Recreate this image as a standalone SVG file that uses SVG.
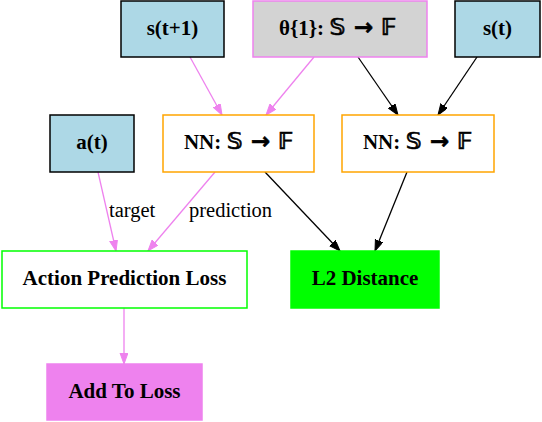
<svg xmlns="http://www.w3.org/2000/svg" width="542" height="422" viewBox="0 0 542 422">
<style>
.lbl{font-family:"Liberation Serif","Times New Roman",serif;font-weight:bold;font-size:21px;fill:#000;text-anchor:middle}
.el{font-family:"Liberation Serif","Times New Roman",serif;font-size:20.5px;fill:#000}
.math{font-family:"DejaVu Sans","DejaVu Serif",sans-serif;font-weight:bold;font-size:23px;stroke:#000;stroke-width:0.6}
.pk{stroke:#ee82ee;stroke-width:1.3;fill:none}
.bk{stroke:#000;stroke-width:1.3;fill:none}
</style>
<defs>
<marker id="ap" markerUnits="userSpaceOnUse" markerWidth="12" markerHeight="9" refX="11" refY="4" orient="auto"><path d="M0,0 L11,4 L0,8 z" fill="#ee82ee" stroke="#ee82ee"/></marker>
<marker id="ab" markerUnits="userSpaceOnUse" markerWidth="12" markerHeight="9" refX="11" refY="4" orient="auto"><path d="M0,0 L11,4 L0,8 z" fill="#000" stroke="#000"/></marker>
</defs>
<rect width="542" height="422" fill="#fff"/>
<g id="connectors">
<line class="pk" x1="190" y1="57" x2="222" y2="115" marker-end="url(#ap)"/>
<line class="pk" x1="314" y1="57" x2="266" y2="115" marker-end="url(#ap)"/>
<line class="bk" x1="358" y1="57" x2="398" y2="115" marker-end="url(#ab)"/>
<line class="bk" x1="477" y1="57" x2="438" y2="115" marker-end="url(#ab)"/>
<line class="pk" x1="98" y1="172" x2="116" y2="251" marker-end="url(#ap)"/>
<line class="pk" x1="215" y1="172" x2="148" y2="251" marker-end="url(#ap)"/>
<line class="bk" x1="265" y1="172" x2="340" y2="251" marker-end="url(#ab)"/>
<line class="bk" x1="407" y1="172" x2="375" y2="251" marker-end="url(#ab)"/>
<line class="pk" x1="124" y1="308" x2="124" y2="364" marker-end="url(#ap)"/>
<text class="el" x="109" y="217">target</text>
<text class="el" x="189" y="217">prediction</text>
</g>
<g id="s_t1">
<rect x="121" y="1" width="103" height="56" fill="#add8e6" stroke="#000" stroke-width="1.5"/>
<text class="lbl" x="172.5" y="35">s(t+1)</text>
</g>
<g id="theta">
<rect x="253" y="1" width="174" height="56" fill="#d3d3d3" stroke="#ee82ee" stroke-width="1.5"/>
<text class="lbl" x="338" y="35">θ{1}: <tspan class="math">𝕊 → 𝔽</tspan></text>
</g>
<g id="s_t">
<rect x="455" y="1" width="85" height="56" fill="#add8e6" stroke="#000" stroke-width="1.5"/>
<text class="lbl" x="497.5" y="35">s(t)</text>
</g>
<g id="a_t">
<rect x="50" y="115" width="84" height="57" fill="#add8e6" stroke="#000" stroke-width="1.5"/>
<text class="lbl" x="92" y="149">a(t)</text>
</g>
<g id="nn1">
<rect x="163" y="115" width="151" height="57" fill="#fff" stroke="#ffa500" stroke-width="1.5"/>
<text class="lbl" x="239" y="149">NN: <tspan class="math">𝕊 → 𝔽</tspan></text>
</g>
<g id="nn2">
<rect x="342" y="115" width="152" height="57" fill="#fff" stroke="#ffa500" stroke-width="1.5"/>
<text class="lbl" x="418" y="149">NN: <tspan class="math">𝕊 → 𝔽</tspan></text>
</g>
<g id="apl">
<rect x="2" y="251" width="245" height="57" fill="#fff" stroke="#00ff00" stroke-width="1.5"/>
<text class="lbl" x="124.5" y="285">Action Prediction Loss</text>
</g>
<g id="l2">
<rect x="291" y="251" width="148" height="57" fill="#00ff00" stroke="#00ff00" stroke-width="1.5"/>
<text class="lbl" x="365" y="285">L2 Distance</text>
</g>
<g id="add">
<rect x="47" y="364" width="155" height="56" fill="#ee82ee" stroke="#ee82ee" stroke-width="1.5"/>
<text class="lbl" x="124.5" y="398">Add To Loss</text>
</g>
</svg>
